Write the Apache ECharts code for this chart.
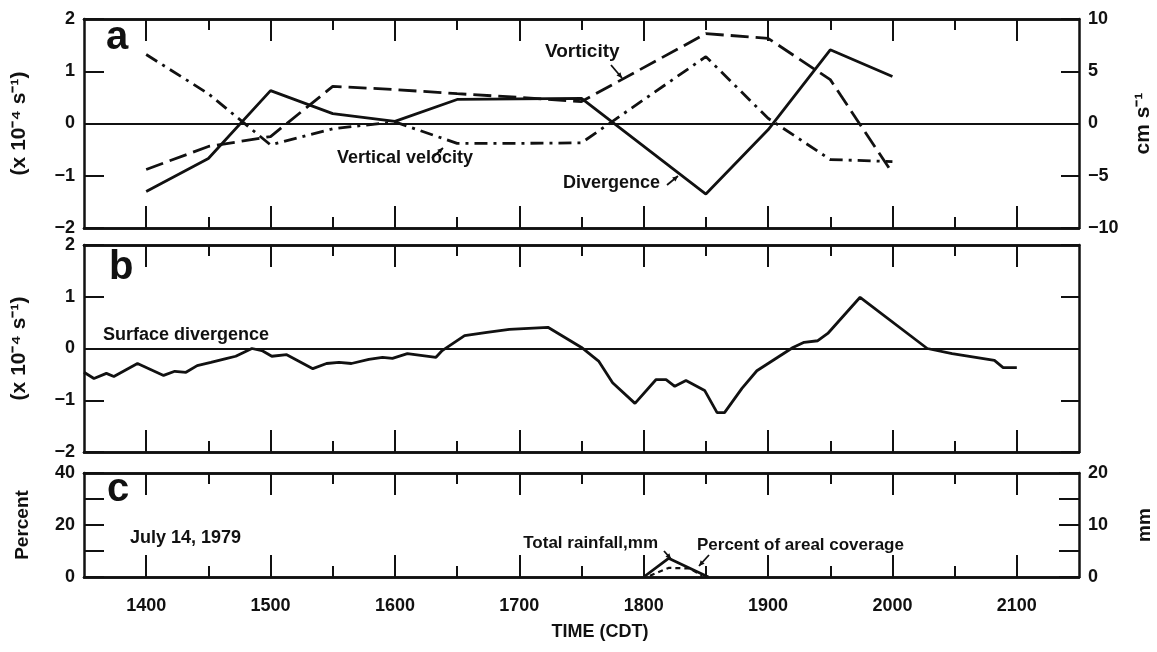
<!DOCTYPE html>
<html>
<head>
<meta charset="utf-8">
<script src="https://cdn.jsdelivr.net/npm/echarts@6/dist/echarts.min.js"></script>
<style>
  html, body { margin: 0; padding: 0; background: #fff; }
  #chart { width: 1157px; height: 652px; }
</style>
</head>
<body>
<div id="chart"></div>
<script>
// ---- data (time in decimal hours CDT) ----
// panel a
const timesA = [14, 14.5, 15, 15.5, 16, 16.5, 17, 17.5, 18.5, 19, 19.5, 20];
const divergenceA = [-1.3, -0.67, 0.63, 0.19, 0.04, 0.46, 0.47, 0.48, -1.35, -0.12, 1.41, 0.9];   // x10^-4 s^-1
const vorticityA = [-0.88, -0.44, -0.25, 0.71, 0.65, 0.57, 0.5, 0.42, 1.72, 1.63, 0.84, -0.95];   // x10^-4 s^-1
const vertVelA = [6.6, 2.85, -2.05, -0.5, 0.15, -1.9, -1.9, -1.85, 6.4, 0.5, -3.45, -3.65];       // cm s^-1

// panel b
const timesB = [13.5, 13.58, 13.68, 13.74, 13.93, 14.14, 14.23, 14.32, 14.41, 14.52, 14.65, 14.72,
  14.85, 14.93, 15.01, 15.13, 15.34, 15.45, 15.55, 15.65, 15.79, 15.9, 15.98, 16.1, 16.33, 16.38,
  16.56, 16.74, 16.92, 17.23, 17.5, 17.64, 17.75, 17.93, 18.1, 18.18, 18.25, 18.34, 18.49, 18.59,
  18.65, 18.79, 18.91, 19.2, 19.29, 19.4, 19.48, 19.74, 20.28, 20.48, 20.82, 20.89, 21.0];
const surfDivB = [-0.46, -0.58, -0.48, -0.54, -0.29, -0.52, -0.44, -0.46, -0.33, -0.27, -0.19, -0.15,
  0.0, -0.04, -0.15, -0.12, -0.39, -0.29, -0.27, -0.29, -0.21, -0.17, -0.19, -0.1, -0.17, -0.04,
  0.25, 0.31, 0.37, 0.41, 0.02, -0.25, -0.66, -1.06, -0.6, -0.6, -0.73, -0.62, -0.81, -1.24,
  -1.24, -0.77, -0.43, 0.02, 0.12, 0.15, 0.29, 0.99, 0.0, -0.1, -0.23, -0.37, -0.37];

// panel c
const timesRain = [18.0, 18.2, 18.52];
const rainMm = [0, 3.6, 0];
const timesPct = [18.05, 18.2, 18.37, 18.47];
const coverPct = [0.5, 3.5, 3.3, 0.5];

// axis ticks / labels
const hourTicks = [14, 15, 16, 17, 18, 19, 20, 21];
const halfTicks = [14.5, 15.5, 16.5, 17.5, 18.5, 19.5, 20.5];

const FONT = "'Liberation Sans', Arial, sans-serif";
const BLACK = '#111';

function minus(v) {
  return String(v).replace('-', '\u2212');
}

function pairs(xs, ys) {
  return xs.map((x, i) => [x, ys[i]]);
}

// four x axes per grid: bottom hour/half ticks, top hour/half ticks
function xAxesFor(gi, withLabels) {
  const base = {
    gridIndex: gi, type: 'value', min: 13.5, max: 21.5,
    splitLine: { show: false },
    axisLine: { onZero: false, lineStyle: { color: BLACK, width: 2.5 } }
  };
  return [
    Object.assign({}, base, {
      position: 'bottom',
      axisTick: { inside: true, length: 22, customValues: hourTicks, lineStyle: { color: BLACK, width: 2 } },
      axisLabel: withLabels ? {
        customValues: hourTicks, margin: 20, color: BLACK, fontSize: 18, fontWeight: 'bold', fontFamily: FONT,
        formatter: v => String(Math.round(v * 100))
      } : { show: false }
    }),
    Object.assign({}, base, {
      position: 'bottom',
      axisTick: { inside: true, length: 11, customValues: halfTicks, lineStyle: { color: BLACK, width: 2 } },
      axisLabel: { show: false }
    }),
    Object.assign({}, base, {
      position: 'top',
      axisTick: { inside: true, length: 22, customValues: hourTicks, lineStyle: { color: BLACK, width: 2 } },
      axisLabel: { show: false }
    }),
    Object.assign({}, base, {
      position: 'top',
      axisTick: { inside: true, length: 11, customValues: halfTicks, lineStyle: { color: BLACK, width: 2 } },
      axisLabel: { show: false }
    })
  ];
}

function yAxis(gi, pos, min, max, interval, opts) {
  opts = opts || {};
  return {
    gridIndex: gi, type: 'value', position: pos, min: min, max: max, interval: interval,
    splitLine: { show: false },
    axisLine: { onZero: false, lineStyle: { color: BLACK, width: 2.5 } },
    axisTick: { inside: true, length: opts.tickLen || 20, lineStyle: { color: BLACK, width: 2 } },
    axisLabel: opts.noLabel ? { show: false } : {
      margin: 9, color: BLACK, fontSize: 18, fontWeight: 'bold', fontFamily: FONT,
      formatter: opts.formatter || (v => minus(v))
    },
    name: opts.name || '',
    nameLocation: 'middle',
    nameRotate: 90,
    nameGap: opts.nameGap || 50,
    nameTextStyle: { color: BLACK, fontSize: opts.nameSize || 20, fontWeight: 'bold', fontFamily: FONT }
  };
}

const zeroLine = {
  silent: true, symbol: 'none', label: { show: false },
  lineStyle: { color: BLACK, type: 'solid', width: 1.8 },
  data: [{ yAxis: 0 }]
};

function lineSeries(name, xi, yi, data, type, width) {
  return {
    name: name, type: 'line', xAxisIndex: xi, yAxisIndex: yi, data: data,
    symbol: 'none', animation: false,
    lineStyle: { color: BLACK, width: width || 2.8, type: type || 'solid' }
  };
}

function txt(text, x, y, size, weight, align) {
  return {
    type: 'text', x: x, y: y,
    style: {
      text: text, fill: BLACK, fontSize: size, fontWeight: weight || 'bold', fontFamily: FONT,
      align: align || 'left', verticalAlign: 'middle'
    }
  };
}

function arrow(x1, y1, x2, y2) {
  const a = Math.atan2(y2 - y1, x2 - x1);
  const h = 6;
  const p1 = [x2 - h * Math.cos(a - 0.45), y2 - h * Math.sin(a - 0.45)];
  const p2 = [x2 - h * Math.cos(a + 0.45), y2 - h * Math.sin(a + 0.45)];
  return [
    { type: 'line', shape: { x1: x1, y1: y1, x2: x2, y2: y2 }, style: { stroke: BLACK, lineWidth: 1.8 } },
    { type: 'polygon', shape: { points: [[x2, y2], p1, p2] }, style: { fill: BLACK } }
  ];
}

const chart = echarts.init(document.getElementById('chart'));

const a = lineSeries('Divergence', 0, 0, pairs(timesA, divergenceA), 'solid');
a.markLine = zeroLine;
const b = lineSeries('Surface divergence', 4, 2, pairs(timesB, surfDivB), 'solid');
b.markLine = zeroLine;

chart.setOption({
  backgroundColor: '#fff',
  animation: false,
  grid: [
    { left: 84, right: 78, top: 19, height: 209, outerBoundsMode: 'none', containLabel: false },
    { left: 84, right: 78, top: 245, height: 207, outerBoundsMode: 'none', containLabel: false },
    { left: 84, right: 78, top: 473, height: 104, outerBoundsMode: 'none', containLabel: false }
  ],
  xAxis: [].concat(xAxesFor(0, false), xAxesFor(1, false), xAxesFor(2, true)),
  yAxis: [
    yAxis(0, 'left', -2, 2, 1, { name: '(x 10\u207B\u2074 s\u207B\u00B9)', nameGap: 54, nameSize: 21 }),
    yAxis(0, 'right', -10, 10, 5, { tickLen: 18, name: 'cm s\u207B\u00B9', nameGap: 54, nameSize: 21 }),
    yAxis(1, 'left', -2, 2, 1, { name: '(x 10\u207B\u2074 s\u207B\u00B9)', nameGap: 54, nameSize: 21 }),
    yAxis(1, 'right', -2, 2, 1, { tickLen: 18, noLabel: true }),
    yAxis(2, 'left', 0, 40, 10, { name: 'Percent', nameGap: 52, nameSize: 19, formatter: v => (v % 20 === 0 ? String(v) : '') }),
    yAxis(2, 'right', 0, 20, 5, { name: 'mm', nameGap: 56, nameSize: 19, formatter: v => (v % 10 === 0 ? String(v) : '') })
  ],
  series: [
    a,
    lineSeries('Vorticity', 0, 0, pairs(timesA, vorticityA), [18, 7]),
    lineSeries('Vertical velocity', 0, 1, pairs(timesA, vertVelA), [13, 6, 3, 6]),
    b,
    lineSeries('Total rainfall', 8, 5, pairs(timesRain, rainMm), 'solid'),
    lineSeries('Percent of areal coverage', 8, 4, pairs(timesPct, coverPct), [5, 4], 2.2)
  ],
  graphic: [].concat(
    [
      txt('a', 106, 38, 40, 'bold'),
      txt('b', 109, 268, 40, 'bold'),
      txt('c', 107, 490, 40, 'bold'),
      txt('Vorticity', 545, 52, 19),
      txt('Vertical velocity', 337, 158, 18),
      txt('Divergence', 563, 183, 18),
      txt('Surface divergence', 103, 335, 18),
      txt('July 14, 1979', 130, 538, 18),
      txt('Total rainfall,mm', 658, 543, 17, 'bold', 'right'),
      txt('Percent of areal coverage', 697, 545, 17),
      txt('TIME (CDT)', 600, 632, 18, 'bold', 'center')
    ],
    arrow(611, 65, 622, 78),
    arrow(432, 158, 443, 148),
    arrow(667, 185, 678, 176),
    arrow(664, 551, 671, 559),
    arrow(709, 555, 699, 566)
  )
});
</script>
</body>
</html>
